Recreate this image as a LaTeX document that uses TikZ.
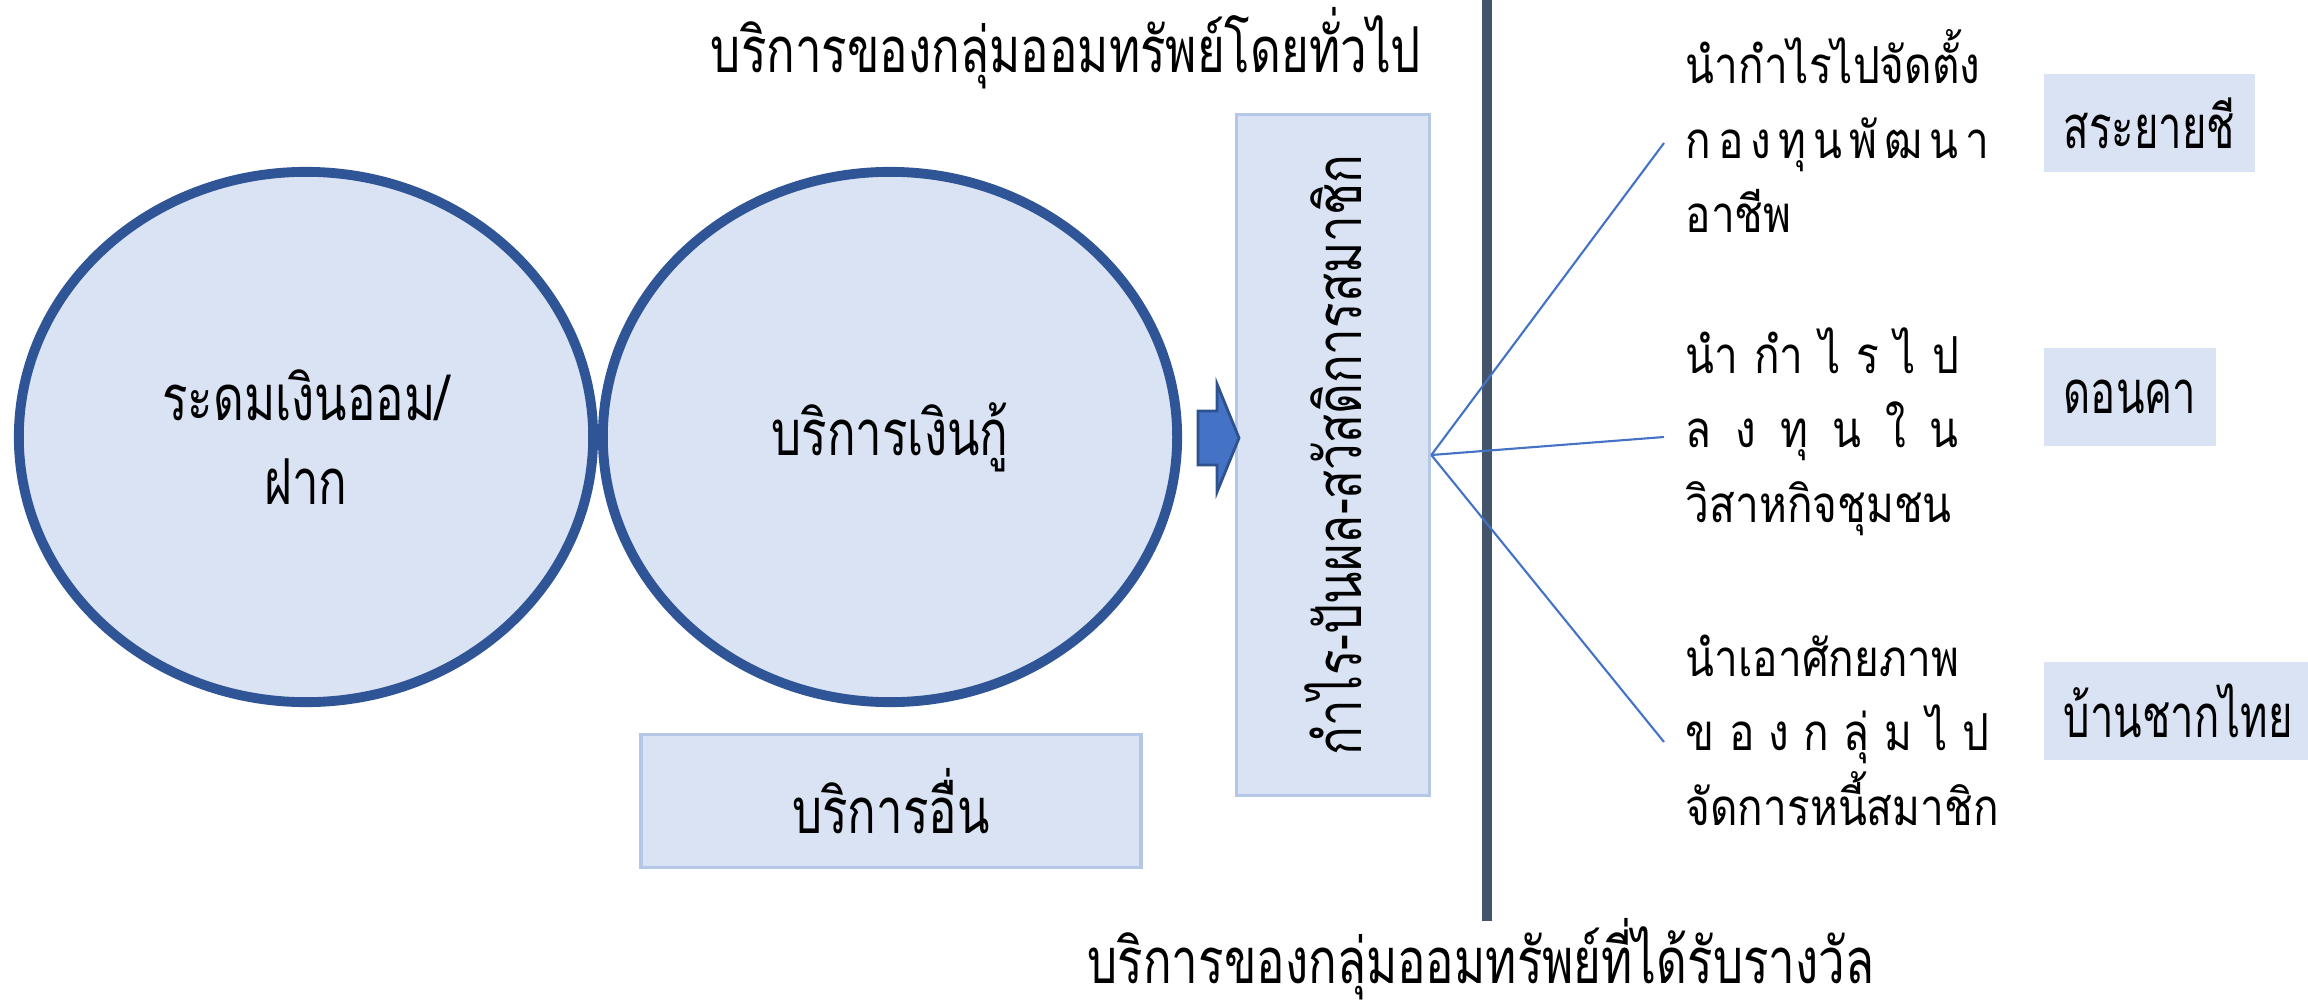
\documentclass[tikz,border=0pt]{standalone}
\usepackage{fontspec}
\newfontfamily\thai[Script=Thai,FakeStretch=0.75]{Loma}
\newfontfamily\thairight[Script=Thai,FakeStretch=0.83]{Loma}
\newfontfamily\thaibox[Script=Thai,FakeStretch=0.7]{Loma}
\usetikzlibrary{shapes.geometric}
\definecolor{paleblue}{HTML}{DAE3F3}
\definecolor{ringblue}{HTML}{2F5597}
\definecolor{edgeblue}{HTML}{B4C7E7}
\definecolor{midblue}{HTML}{4472C4}
\definecolor{arrowedge}{HTML}{2F528F}
\definecolor{slate}{HTML}{44546A}
\newcommand{\spreadto}[2]{\makebox[#1][s]{#2}}
\newcommand{\lowstrut}{\rule[-0.24cm]{0pt}{0.24cm}}
\begin{document}
\begin{tikzpicture}[x=0.01cm, y=-0.01cm]
 \tikzset{
  service/.style={ellipse, draw=ringblue, fill=paleblue, line width=2.8pt, minimum width=5.74cm, minimum height=5.30cm, align=center, font=\thai\fontsize{18}{24}\selectfont},
  panel/.style={draw=edgeblue, fill=paleblue, line width=1pt, font=\thai\fontsize{18}{24}\selectfont},
  village/.style={fill=paleblue, anchor=west, minimum height=0.97cm, inner xsep=0.2cm, font=\thaibox\fontsize{17}{20}\selectfont},
  goal/.style={anchor=west, align=left, inner xsep=0.21cm, font=\thairight\fontsize{14.5}{21.2}\selectfont},
  spoke/.style={midblue, line width=0.6pt}
 }
 \useasboundingbox (0,0) rectangle (2308,1006);
  % headings
  \node[anchor=base, font=\thai\fontsize{18}{24}\selectfont] (general) at (1066,72) {บริการของกลุ่มออมทรัพย์โดยทั่วไป};
  \node[anchor=base, font=\thai\fontsize{18}{24}\selectfont] (awarded) at (1481,983) {บริการของกลุ่มออมทรัพย์ที่ได้รับรางวัล};
  % services
  \node[service] (savings) at (306,437) {ระดมเงินออม/\\ฝาก};
  \node[service] (loans) at (890,437) {บริการเงินกู้};
  \node[panel, minimum width=5.00cm, minimum height=1.33cm] (other) at (891,801) {บริการอื่น};
  \node[panel, minimum width=1.93cm, minimum height=6.81cm] (profit) at (1333,455) {\rotatebox{90}{กำไร-ปันผล-สวัสดิการสมาชิก}};
  \draw[fill=midblue, draw=arrowedge, line width=0.8pt] (1198,411) -- (1217,411) -- (1217,384) -- (1239,438) -- (1217,492) -- (1217,465) -- (1198,465) -- cycle;
  % divider
  \coordinate (divtop) at (1487,0);
  \coordinate (divbot) at (1487,921);
  \draw[slate, line width=3.1pt] (divtop) -- (divbot);
  % awarded groups
  \node[goal] (goal1) at (1664,143) {นำกำไรไปจัดตั้ง\\\spreadto{3.03cm}{ก\hfill อ\hfill ง\hfill ทุ\hfill น\hfill พั\hfill ฒ\hfill น\hfill า}\\อาชีพ\lowstrut};
  \node[goal] (goal2) at (1664,437) {\spreadto{2.73cm}{นำ\hfill กำ\hfill ไ\hfill ร\hfill ไ\hfill ป}\\\spreadto{2.73cm}{ล\hfill ง\hfill ทุ\hfill น\hfill ใ\hfill น}\\วิสาหกิจชุมชน\lowstrut};
  \node[goal] (goal3) at (1664,742) {นำเอาศักยภาพ\\\spreadto{3.03cm}{ข\hfill อ\hfill ง\hfill ก\hfill ลุ่\hfill ม\hfill ไ\hfill ป}\\จัดการหนี้สมาชิก\lowstrut};
  \node[village] (sarayaichi) at (2043,123) {สระยายชี};
  \node[village] (donkha) at (2043,397) {ดอนคา};
  \node[village] (banchakthai) at (2043,711) {บ้านชากไทย};
  \draw[spoke] (profit.east) -- (goal1.west);
  \draw[spoke] (profit.east) -- (goal2.west);
  \draw[spoke] (profit.east) -- (goal3.west);
\end{tikzpicture}
\end{document}
